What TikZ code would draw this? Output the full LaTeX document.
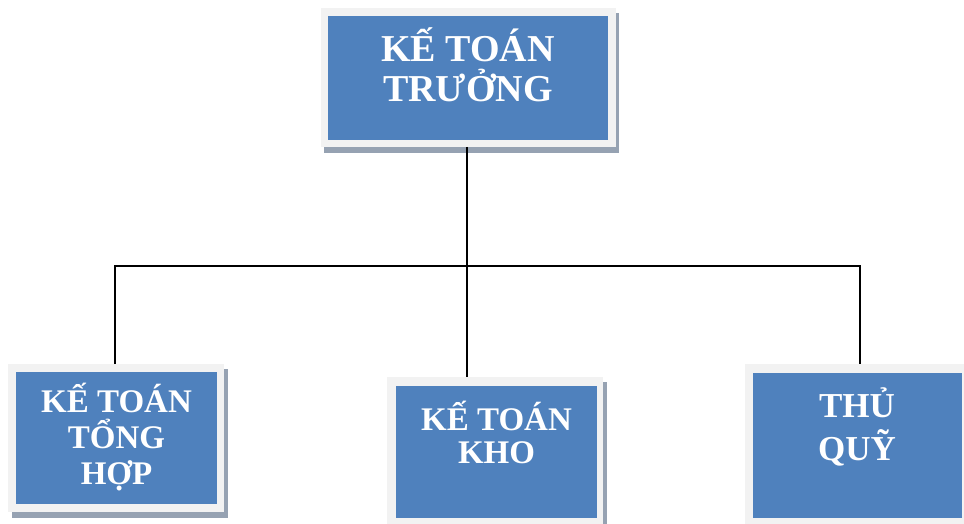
\documentclass[tikz,border=0pt]{standalone}
\usepackage{fontspec}
\setmainfont{Liberation Serif}
\begin{document}
\begin{tikzpicture}[x=1pt,y=-1pt,
  frame/.style={fill=framegray,draw=none,inner sep=0pt,outer sep=0pt},
  bluebox/.style={fill=boxblue,draw=none,inner sep=0pt,outer sep=0pt},
  shadowbox/.style={fill=shadowgray,draw=none},
  lbl/.style={anchor=base,text=white,inner sep=0pt,font=\bfseries},
  conn/.style={draw=black,line width=1.6pt}]
\definecolor{framegray}{RGB}{242,242,242}
\definecolor{boxblue}{RGB}{79,129,189}
\definecolor{shadowgray}{RGB}{150,162,178}
\useasboundingbox (0,0) rectangle (964,524);
\fill[white] (0,0) rectangle (964,524);
% shadows
\fill[shadowgray] (324,13) rectangle (619,153);
\fill[shadowgray] (12,369) rectangle (228,518);
\fill[shadowgray] (391,382) rectangle (607,530);
% top box
\node[frame,minimum width=295pt,minimum height=139pt] (kttf) at (468.5,77.5) {};
\node[bluebox,minimum width=280pt,minimum height=124pt] (ktt) at (468,78) {};
% left box
\node[frame,minimum width=216pt,minimum height=148pt] (kthf) at (116,438) {};
\node[bluebox,minimum width=201pt,minimum height=132pt] (kth) at (116.5,438) {};
% middle box
\node[frame,minimum width=216pt,minimum height=150pt] (ktkf) at (495,452) {};
\node[bluebox,minimum width=201pt,minimum height=132pt] (ktk) at (496.5,452) {};
% right box
\node[frame,minimum width=225pt,minimum height=163pt] (tqf) at (857.5,445.5) {};
\node[bluebox,minimum width=209pt,minimum height=145pt] (tq) at (857.5,445.5) {};
% labels
\node[lbl,font=\bfseries\fontsize{38}{40}\selectfont] (ktt1) at (468,62) {KẾ TOÁN};
\node[lbl,font=\bfseries\fontsize{38}{40}\selectfont] (ktt2) at (468,102) {TRƯỞNG};
\node[lbl,font=\bfseries\fontsize{33}{36}\selectfont] (kth1) at (116.5,412) {KẾ TOÁN};
\node[lbl,font=\bfseries\fontsize{33}{36}\selectfont] (kth2) at (116.5,448) {TỔNG};
\node[lbl,font=\bfseries\fontsize{33}{36}\selectfont] (kth3) at (116.5,484) {HỢP};
\node[lbl,font=\bfseries\fontsize{33}{36}\selectfont] (ktk1) at (496.5,430) {KẾ TOÁN};
\node[lbl,font=\bfseries\fontsize{33}{36}\selectfont] (ktk2) at (496.5,463) {KHO};
\node[lbl,font=\bfseries\fontsize{35}{40}\selectfont] (tq1) at (857,417) {THỦ};
\node[lbl,font=\bfseries\fontsize{35}{40}\selectfont] (tq2) at (857,460) {QUỸ};
% connectors
\coordinate (bus) at (467,266);
\coordinate (lx) at (115,266);
\coordinate (rx) at (860,266);
\draw[conn] (bus |- kttf.south) -- (bus);
\draw[conn] (lx |- kthf.north) -- (lx) -- (rx) -- (rx |- tqf.north);
\draw[conn] (bus) -- (bus |- ktkf.north);
\end{tikzpicture}
\end{document}
